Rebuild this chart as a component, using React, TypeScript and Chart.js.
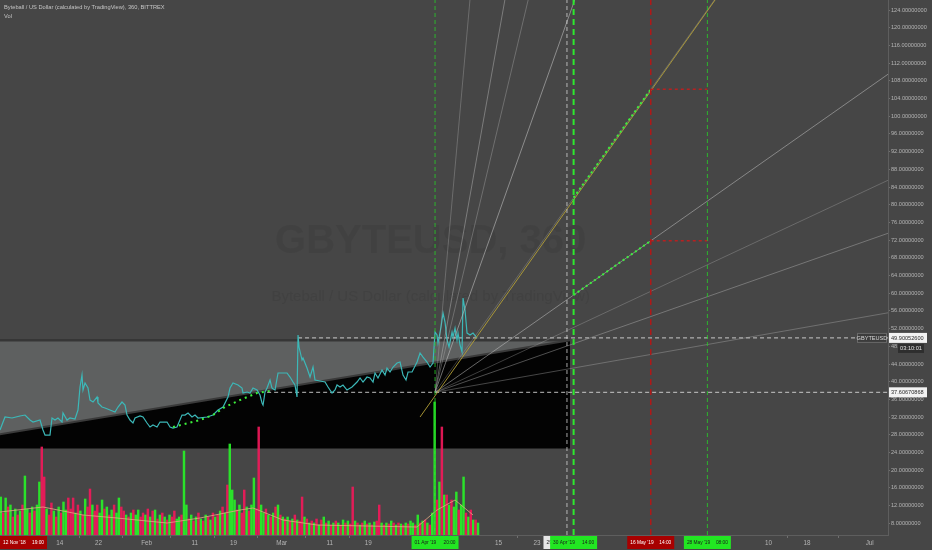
import React, { useEffect, useRef } from 'react';
import { Chart, registerables } from 'chart.js';

Chart.register(...registerables);

const FONT = "'Liberation Sans', 'DejaVu Sans', sans-serif";
const BG = '#464646';

// x axis: days since 1 Jan 2019; y axis: price in USD
const X_MIN = 0.58;
const X_MAX = 184.8;
const Y_MIN = 5.36;
const Y_MAX = 126.26;

const xTickDays = [13, 21, 31, 41, 49, 59, 69, 77, 104, 112, 160, 168, 181];
const xTickLabels = ['14', '22', 'Feb', '11', '19', 'Mar', '11', '19', '15', '23', '10', '18', 'Jul'];
const yTickValues = [8, 12, 16, 20, 24, 28, 32, 36, 40, 44, 48, 52, 56, 60, 64, 68, 72, 76, 80, 84, 88, 92, 96, 100, 104, 108, 112, 116, 120, 124];

const priceDays = [
  0.58, 1.62, 3.07, 4.73, 5.77, 6.80, 7.43, 8.88, 9.50, 9.92,
  10.95, 11.37, 11.99, 12.61, 13.44, 13.65, 14.48, 15.10, 16.14, 16.76,
  17.18, 17.59, 17.80, 18.22, 18.84, 19.25, 19.88, 20.71, 20.91, 21.74,
  22.37, 23.40, 24.44, 25.06, 25.89, 26.51, 26.93, 27.55, 28.17, 28.59,
  29.63, 30.25, 31.08, 31.70, 32.32, 33.15, 33.78, 35.23, 35.85, 36.47,
  37.30, 38.34, 38.96, 39.59, 40.41, 41.04, 41.66, 43.53, 44.77, 45.81,
  46.85, 47.88, 48.30, 48.92, 49.96, 50.79, 51.00, 51.83, 52.45, 53.07,
  53.90, 54.52, 54.94, 55.15, 55.56, 55.98, 56.60, 57.01, 57.63, 58.26,
  59.09, 60.12, 60.75, 61.37, 61.78, 62.20, 62.41, 62.61, 63.24, 63.44,
  64.27, 64.90, 65.52, 65.93, 66.97, 68.01, 68.63, 69.46, 70.08, 70.50,
  71.12, 71.74, 72.57, 73.61, 74.65, 75.27, 75.89, 76.72, 77.34, 77.97,
  78.38, 79.00, 79.83, 80.46, 80.87, 81.49, 82.12, 82.95, 83.57, 84.19,
  84.81, 85.23, 86.06, 87.10, 87.72, 88.34, 89.17, 89.79, 90.41, 90.83,
  91.24, 91.45, 92.07, 92.49, 92.90, 93.32, 93.73, 94.36, 94.56, 94.98,
  95.39, 95.60, 96.02, 96.43, 96.64, 97.05, 97.47, 98.09, 98.71, 99.54,
];
const priceValues = [
  29.08, 32.02, 31.80, 32.25, 32.47, 31.34, 30.89, 31.34, 29.08, 27.95,
  27.95, 31.80, 31.34, 31.80, 30.89, 32.93, 31.34, 31.80, 31.57, 33.60,
  38.80, 41.51, 38.12, 39.71, 38.57, 35.86, 35.41, 36.54, 35.19, 34.28,
  34.05, 33.60, 33.15, 34.28, 35.41, 34.73, 32.47, 31.34, 30.67, 31.80,
  32.25, 32.02, 30.67, 29.76, 30.22, 29.76, 30.89, 30.89, 29.76, 29.53,
  29.76, 32.47, 32.47, 32.93, 32.02, 32.47, 31.80, 32.02, 32.47, 33.60,
  34.28, 36.54, 38.57, 39.71, 39.25, 38.57, 37.45, 37.67, 37.45, 38.57,
  38.12, 36.99, 35.19, 34.73, 37.67, 38.57, 40.38, 38.57, 38.12, 41.97,
  41.97, 41.97, 41.06, 39.93, 39.25, 36.54, 50.55, 47.84, 44.90, 45.36,
  43.10, 41.06, 43.32, 40.38, 40.16, 39.93, 38.80, 37.45, 38.12, 39.25,
  38.80, 39.25, 38.12, 38.80, 39.93, 40.84, 39.93, 41.06, 40.84, 39.93,
  41.97, 40.84, 42.64, 41.51, 43.10, 42.19, 43.32, 44.23, 44.45, 41.51,
  40.38, 42.19, 42.19, 44.45, 46.49, 45.58, 44.45, 43.32, 44.23, 51.23,
  50.55, 48.74, 52.36, 55.52, 53.49, 49.42, 47.84, 51.23, 50.10, 52.13,
  49.42, 51.00, 48.29, 46.71, 58.91, 56.20, 51.00, 50.55, 51.00, 49.90,
];

// volume, one bar per half day starting at day 0.25
const VOL_START = 0.25;
const VOL_STEP = 0.5;
const VOL_AXIS_MAX = 535;
const volumeValues = [
  25, 38, 22, 37, 28, 30, 18, 26, 20, 24,
  30, 59, 26, 22, 28, 24, 30, 53, 88, 58,
  26, 20, 32, 24, 18, 28, 22, 33, 25, 37,
  26, 37, 22, 30, 24, 20, 36, 28, 46, 30,
  24, 30, 22, 35, 26, 28, 20, 25, 30, 22,
  37, 28, 24, 20, 18, 22, 25, 20, 25, 18,
  22, 20, 26, 18, 24, 25, 16, 20, 22, 18,
  15, 20, 18, 24, 16, 18, 20, 84, 30, 16,
  20, 14, 18, 22, 16, 14, 20, 18, 15, 22,
  18, 20, 24, 28, 22, 50, 91, 45, 35, 25,
  30, 22, 45, 28, 24, 30, 57, 26, 108, 30,
  22, 26, 20, 18, 22, 28, 30, 20, 18, 16,
  18, 14, 16, 20, 15, 14, 38, 18, 16, 12,
  14, 12, 16, 10, 15, 18, 12, 14, 10, 12,
  14, 12, 10, 15, 12, 14, 11, 48, 14, 12,
  10, 12, 14, 11, 12, 10, 13, 14, 30, 12,
  10, 12, 11, 14, 12, 10, 12, 11, 10, 12,
  11, 14, 12, 10, 20, 12, 14, 15, 12, 10,
  22, 133, 35, 53, 108, 40, 40, 30, 35, 28,
  43, 25, 30, 58, 22, 18, 25, 15, 15, 12,
];
const volumeColors =
  'ggrgrgrgrg' + 'rggrgrggrr' + 'grrgrgrggr' + 'rrgrgrgrrg' + 'rrggrgrgrg' +
  'grrgrgrggr' + 'rgrgrgrgrg' + 'rgrrggrggr' + 'grgrgrgrgr' + 'grgrgrgggr' +
  'grrgrggrrg' + 'grgrgrgrgr' + 'grgrgrrgrg' + 'rgrgrgrgrg' + 'rgrgrgrrgr' +
  'grgrgrgrrg' + 'rgrgrgrgrg' + 'rggrgrgrgr' + 'ggrgrgrgrg' + 'grggrgrgrg';

const volMaDays = [0.58, 9.50, 17.80, 24.85, 35.23, 42.07, 50.37, 53.07, 59.29, 66.35, 76.72, 87.10, 91.24, 94.98, 98.71];
const volMaValues = [23, 28, 20, 17, 12, 17, 25, 27, 15, 10, 9, 8, 25, 35, 20];

// shaded box (grey above a rising diagonal, black below)
const boxDays = [-5, 118.84];
const boxTop = [49.35, 49.35];
const boxDiagonal = [27.1, 49.35];
const boxBottom = [24.9, 24.9];

// Gann fan
const FAN_ORIGIN_DAY = 90.83;
const FAN_ORIGIN_PRICE = 37.6;
const FAN_UNIT = 1.53; // USD per day for 1x1
const fanRatios = [8, 4, 3, 2, 1, 1 / 2, 1 / 3, 1 / 4, 1 / 8];
const fanColors = [
  'rgba(180,180,180,0.35)', 'rgba(190,190,190,0.45)', 'rgba(180,180,180,0.38)', 'rgba(200,200,200,0.55)',
  'rgba(180,180,180,0.3)', 'rgba(200,200,200,0.5)', 'rgba(175,175,175,0.35)', 'rgba(185,185,185,0.42)', 'rgba(180,180,180,0.38)',
];

const trendDays = [87.72, 148.92];
const trendPrices = [32.02, 126.26];

const greenSegDays = [119.58, 135.58];
const greenSegUpper = [81.6, 106.07];
const greenSegLower = [59.6, 71.83];
const greenCurveDays = [36.47, 42.07, 44.77, 47.26, 50.37, 53.90, 56.60];
const greenCurvePrices = [29.76, 31.34, 32.47, 34.28, 35.86, 37.45, 37.90];

const redSegDays = [135.58, 147.33];
const redSegUpper = 106.07;
const redSegLower = 71.83;

const LAST_PRICE = 49.90052600;
const LEVEL_PRICE = 37.60670868;
const lastPriceFromDay = 62.41;
const levelFromDay = 56.0;

// vertical markers
const vLines = [
  { day: 90.83, color: 'rgba(40,200,40,0.85)', width: 1, dash: [4, 3] },
  { day: 118.2, color: 'rgba(220,220,220,0.75)', width: 1, dash: [4, 3] },
  { day: 119.58, color: '#2ee82e', width: 2, dash: [6, 4] },
  { day: 135.58, color: '#b01818', width: 1.5, dash: [6, 4] },
  { day: 147.33, color: 'rgba(40,200,40,0.85)', width: 1, dash: [4, 3] },
];

const timeBoxes = [
  { day: -100, a: "12 Nov '18", b: '19:00', bg: '#a80000', fg: '#ffffff' },
  { day: 90.83, a: "01 Apr '19", b: '20:00', bg: '#22e622', fg: '#1a1a1a' },
  { day: 118.2, a: "29 Apr '19", b: '04:00', bg: '#e6e6e6', fg: '#1a1a1a' },
  { day: 119.58, a: "30 Apr '19", b: '14:00', bg: '#22e622', fg: '#1a1a1a' },
  { day: 135.58, a: "16 May '19", b: '14:00', bg: '#a80000', fg: '#ffffff' },
  { day: 147.33, a: "28 May '19", b: '08:00', bg: '#22e622', fg: '#1a1a1a' },
];

const seg = (xs: number[], ys: number[]) => xs.map((x, i) => ({ x, y: ys[i] }));

const bgPlugin = {
  id: 'bgPlugin',
  beforeDraw(chart: any) {
    const { ctx, width, height } = chart;
    ctx.save();
    ctx.fillStyle = BG;
    ctx.fillRect(0, 0, width, height);
    ctx.restore();
  },
  beforeDatasetsDraw(chart: any) {
    const { ctx, chartArea } = chart;
    ctx.save();
    ctx.textAlign = 'center';
    ctx.textBaseline = 'middle';
    ctx.fillStyle = 'rgba(40,40,40,0.13)';
    const cx = chartArea.left + chartArea.width * 0.485;
    ctx.font = `bold 40px ${FONT}`;
    ctx.fillText('GBYTEUSD, 360', cx, chartArea.top + chartArea.height * 0.452);
    ctx.font = `15px ${FONT}`;
    ctx.fillText('Byteball / US Dollar (calculated by TradingView)', cx, chartArea.top + chartArea.height * 0.555);
    ctx.restore();
  },
};

const labelPlugin = {
  id: 'labelPlugin',
  afterDraw(chart: any) {
    const { ctx, chartArea } = chart;
    const xs = chart.scales.x;
    const ys = chart.scales.y;
    ctx.save();
    // header
    ctx.fillStyle = '#c4c4c4';
    ctx.font = `5.7px ${FONT}`;
    ctx.textBaseline = 'middle';
    ctx.textAlign = 'left';
    ctx.fillText('Byteball / US Dollar (calculated by TradingView), 360, BITTREX', 4, 7.5);
    ctx.fillText('Vol', 4, 16.5);

    // time boxes
    const bw = 47;
    const bh = 13;
    const top = xs.top + 1;
    timeBoxes.forEach((b) => {
      let left = xs.getPixelForValue(b.day) - bw / 2;
      if (left < 0) left = 0;
      ctx.fillStyle = b.bg;
      ctx.fillRect(left, top, bw, bh);
      ctx.fillStyle = b.fg;
      ctx.font = `4.8px ${FONT}`;
      ctx.textAlign = 'left';
      ctx.fillText(b.a, left + 3, top + bh / 2);
      ctx.textAlign = 'right';
      ctx.fillText(b.b, left + bw - 3, top + bh / 2);
    });

    // price boxes
    const ax = chartArea.right + 1;
    const drawPriceBox = (price: number, text: string) => {
      const y = ys.getPixelForValue(price);
      ctx.fillStyle = '#f2f2f2';
      ctx.fillRect(ax, y - 5, 38, 10);
      ctx.fillStyle = '#2a2a2a';
      ctx.font = `5.6px ${FONT}`;
      ctx.textAlign = 'left';
      ctx.fillText(text, ax + 2, y + 0.5);
      return y;
    };
    const yl = drawPriceBox(LAST_PRICE, LAST_PRICE.toFixed(8));
    drawPriceBox(LEVEL_PRICE, LEVEL_PRICE.toFixed(8));
    // symbol tag
    ctx.fillStyle = '#3c3c3c';
    ctx.fillRect(chartArea.right - 31, yl - 5, 30, 10);
    ctx.strokeStyle = '#6a6a6a';
    ctx.lineWidth = 1;
    ctx.strokeRect(chartArea.right - 30.5, yl - 4.5, 29, 9);
    ctx.fillStyle = '#d8d8d8';
    ctx.textAlign = 'center';
    ctx.fillText('GBYTEUSD', chartArea.right - 16, yl + 0.5);
    // countdown
    ctx.fillStyle = '#2e2e2e';
    ctx.fillRect(ax + 9, yl + 6, 26, 9);
    ctx.fillStyle = '#e0e0e0';
    ctx.fillText('03:10:01', ax + 22, yl + 10.5);
    ctx.restore();
  },
};

export default function App() {
  const ref = useRef<HTMLCanvasElement>(null);

  useEffect(() => {
    const UP = 'rgba(40,240,40,0.92)';
    const DOWN = 'rgba(240,25,90,0.92)';
    const datasets: any[] = [
      {
        type: 'line', data: seg(boxDays, boxTop), borderColor: '#363636', borderWidth: 2.5,
        backgroundColor: 'rgb(94,96,96)', fill: '+1', pointRadius: 0, order: 22,
      },
      {
        type: 'line', data: seg(boxDays, boxDiagonal), borderColor: '#3a3a3a', borderWidth: 2,
        backgroundColor: '#030303', fill: '+1', pointRadius: 0, order: 21,
      },
      {
        type: 'line', data: seg(boxDays, boxBottom), borderColor: 'rgba(0,0,0,0)', borderWidth: 0,
        fill: false, pointRadius: 0, order: 23,
      },
      {
        type: 'bar', yAxisID: 'yVol',
        data: volumeValues.map((v, i) => ({ x: VOL_START + i * VOL_STEP, y: v })),
        backgroundColor: volumeColors.split('').map((c) => (c === 'g' ? UP : DOWN)),
        barThickness: 1.8, order: 15,
      },
      {
        type: 'line', yAxisID: 'yVol', data: seg(volMaDays, volMaValues),
        borderColor: 'rgba(225,170,130,0.8)', borderWidth: 1, pointRadius: 0, fill: false, order: 14,
      },
      {
        type: 'line', data: seg([lastPriceFromDay, X_MAX], [LAST_PRICE, LAST_PRICE]),
        borderColor: 'rgba(225,225,225,0.85)', borderWidth: 1, borderDash: [4, 3], pointRadius: 0, order: 13,
      },
      {
        type: 'line', data: seg([levelFromDay, X_MAX], [LEVEL_PRICE, LEVEL_PRICE]),
        borderColor: 'rgba(225,225,225,0.85)', borderWidth: 1, borderDash: [4, 3], pointRadius: 0, order: 13,
      },
      {
        type: 'line', data: seg(priceDays, priceValues), borderColor: '#3cb8b8', borderWidth: 1.2,
        pointRadius: 0, fill: false, order: 10,
      },
      ...fanRatios.map((r, i) => ({
        type: 'line',
        data: seg([FAN_ORIGIN_DAY, X_MAX], [FAN_ORIGIN_PRICE, FAN_ORIGIN_PRICE + r * FAN_UNIT * (X_MAX - FAN_ORIGIN_DAY)]),
        borderColor: fanColors[i], borderWidth: 1, pointRadius: 0, fill: false, order: 9,
      })),
      {
        type: 'line', data: seg(trendDays, trendPrices), borderColor: 'rgba(180,160,55,0.9)', borderWidth: 1,
        pointRadius: 0, fill: false, order: 8,
      },
      {
        type: 'line', data: seg(greenSegDays, greenSegUpper), borderColor: '#3cf03c', borderWidth: 2,
        borderDash: [2, 3], pointRadius: 0, fill: false, order: 7,
      },
      {
        type: 'line', data: seg(greenSegDays, greenSegLower), borderColor: '#3cf03c', borderWidth: 2,
        borderDash: [2, 3], pointRadius: 0, fill: false, order: 7,
      },
      {
        type: 'line', data: seg(greenCurveDays, greenCurvePrices), borderColor: '#3cf03c', borderWidth: 2,
        borderDash: [2, 4], pointRadius: 0, fill: false, order: 7,
      },
      {
        type: 'line', data: seg(redSegDays, [redSegUpper, redSegUpper]), borderColor: '#b82020', borderWidth: 1.5,
        borderDash: [3, 3], pointRadius: 0, fill: false, order: 7,
      },
      {
        type: 'line', data: seg(redSegDays, [redSegLower, redSegLower]), borderColor: '#b82020', borderWidth: 1.5,
        borderDash: [3, 3], pointRadius: 0, fill: false, order: 7,
      },
      ...vLines.map((v) => ({
        type: 'line', data: seg([v.day, v.day], [Y_MIN, Y_MAX]), borderColor: v.color, borderWidth: v.width,
        borderDash: v.dash, pointRadius: 0, fill: false, order: 6,
      })),
    ];

    const chart = new Chart(ref.current as HTMLCanvasElement, {
      type: 'line',
      data: { datasets },
      options: {
        responsive: false,
        animation: false,
        events: [],
        layout: { padding: 0 },
        plugins: { legend: { display: false }, tooltip: { enabled: false } },
        font: { family: FONT },
        scales: {
          x: {
            type: 'linear', min: X_MIN, max: X_MAX, offset: false, position: 'bottom',
            grid: { display: true, drawOnChartArea: false, drawTicks: true, tickLength: 3, color: '#707070' },
            border: { display: true, color: '#5e5e5e' },
            ticks: {
              autoSkip: false, maxRotation: 0, color: '#b4b4b4', padding: 1,
              font: { size: 6.3, family: FONT },
              callback: (_v: any, i: number) => xTickLabels[i],
            },
            afterBuildTicks: (s: any) => { s.ticks = xTickDays.map((v) => ({ value: v })); },
            afterFit: (s: any) => { s.height = 15; s.paddingLeft = 0; s.paddingRight = 0; },
          },
          y: {
            type: 'linear', position: 'right', min: Y_MIN, max: Y_MAX,
            grid: { display: true, drawOnChartArea: false, drawTicks: true, tickLength: 2, color: '#707070' },
            border: { display: true, color: '#5e5e5e' },
            ticks: {
              color: '#b4b4b4', padding: 1, font: { size: 5.6, family: FONT },
              callback: (v: any) => Number(v).toFixed(8),
            },
            afterBuildTicks: (s: any) => { s.ticks = yTickValues.map((v) => ({ value: v })); },
            afterFit: (s: any) => { s.width = 44; s.paddingTop = 0; s.paddingBottom = 0; },
          },
          yVol: { type: 'linear', display: false, min: 0, max: VOL_AXIS_MAX },
        },
      } as any,
      plugins: [bgPlugin, labelPlugin],
    });
    return () => chart.destroy();
  }, []);

  return (
    <div style={{ position: 'fixed', left: 0, top: 0, width: 932, height: 550, background: BG }}>
      <canvas ref={ref} width={932} height={550} style={{ display: 'block' }} />
    </div>
  );
}
